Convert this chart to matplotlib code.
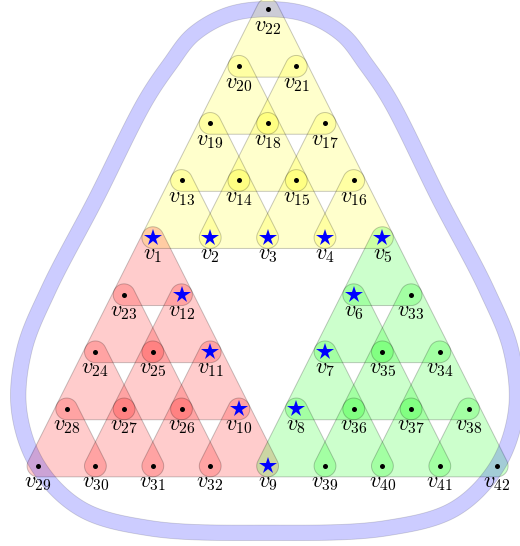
import numpy as np
import matplotlib
matplotlib.use("Agg")
import matplotlib.pyplot as plt
from matplotlib.path import Path
from matplotlib.patches import PathPatch, Polygon

plt.rcParams['mathtext.fontset'] = 'cm'

# vertex labels of the three big triangles, row by row from the apex
yellow_rows = [[22], [20, 21], [19, 18, 17], [13, 14, 15, 16], [1, 2, 3, 4, 5]]
red_rows = [[1], [23, 12], [24, 25, 11], [28, 27, 26, 10], [29, 30, 31, 32, 9]]
green_rows = [[5], [6, 33], [7, 35, 34], [8, 36, 37, 38], [9, 39, 40, 41, 42]]
# apex of each big triangle in lattice units
apex_yellow = (4, 8)
apex_red = (2, 4)
apex_green = (6, 4)
# vertices drawn as stars
starred = [1, 2, 3, 4, 5, 6, 7, 8, 9, 10, 11, 12]

# the big blue hyperedge {v22, v29, v42}, smooth closed curve (lattice units)
blue_x = [4.00, 4.70, 5.31, 5.71, 6.13, 7.00, 7.82, 8.24, 8.33, 8.00, 7.26, 6.06, 4.00,
          1.95, 0.75, 0.00, -0.33, -0.24, 0.18, 1.00, 1.88, 2.30, 2.70, 3.31]
blue_y = [8.00, 7.90, 7.55, 7.04, 6.41, 4.66, 3.08, 2.03, 0.98, 0.00, -0.75, -1.09, -1.17,
          -1.09, -0.75, 0.00, 0.98, 2.03, 3.08, 4.66, 6.41, 7.04, 7.55, 7.90]

R = 0.19     # corner radius of the small hyperedges
BAND = 0.27  # width of the blue band


def hull(pts):
    pts = sorted(set(map(tuple, np.round(pts, 6))))
    def half(seq):
        out = []
        for p in seq:
            while len(out) >= 2 and np.cross(np.subtract(out[-1], out[-2]), np.subtract(p, out[-2])) <= 0:
                out.pop()
            out.append(p)
        return out
    lo = half(pts)
    hi = half(pts[::-1])
    return np.array(lo[:-1] + hi[:-1])


def rounded_triangle(corners, r):
    t = np.linspace(0, 2 * np.pi, 90, endpoint=False)
    pts = np.concatenate([np.c_[x + r * np.cos(t), y + r * np.sin(t)] for x, y in corners])
    return hull(pts)


def catmull_closed(x, y, n=40):
    # centripetal catmull-rom, closed loop
    P = np.c_[x, y]
    m = len(P)
    out = []
    for i in range(m):
        p0, p1, p2, p3 = P[i - 1], P[i], P[(i + 1) % m], P[(i + 2) % m]
        t0 = 0.0
        t1 = t0 + np.linalg.norm(p1 - p0) ** 0.5
        t2 = t1 + np.linalg.norm(p2 - p1) ** 0.5
        t3 = t2 + np.linalg.norm(p3 - p2) ** 0.5
        for t in np.linspace(t1, t2, n, endpoint=False):
            a1 = (t1 - t) / (t1 - t0) * p0 + (t - t0) / (t1 - t0) * p1
            a2 = (t2 - t) / (t2 - t1) * p1 + (t - t1) / (t2 - t1) * p2
            a3 = (t3 - t) / (t3 - t2) * p2 + (t - t2) / (t3 - t2) * p3
            b1 = (t2 - t) / (t2 - t0) * a1 + (t - t0) / (t2 - t0) * a2
            b2 = (t3 - t) / (t3 - t1) * a2 + (t - t1) / (t3 - t1) * a3
            out.append((t2 - t) / (t2 - t1) * b1 + (t - t1) / (t2 - t1) * b2)
    return np.array(out)


pos = {}
edges = []
for rows, (ax0, ay0), col in [(yellow_rows, apex_yellow, 'yellow'),
                              (red_rows, apex_red, 'red'),
                              (green_rows, apex_green, 'lime')]:
    for i, row in enumerate(rows):
        for j, v in enumerate(row):
            pos[v] = (ax0 - i / 2 + j, ay0 - i)
    for i in range(len(rows) - 1):
        for j in range(i + 1):
            edges.append(((rows[i][j], rows[i + 1][j], rows[i + 1][j + 1]), col))

fig = plt.figure(figsize=(5.2, 5.46), dpi=100)
ax = fig.add_axes([0, 0, 1, 1])
ax.set_xlim(-0.662, 8.397)
ax.set_ylim(-1.401, 8.161)
ax.axis('off')

for tri, col in edges:
    poly = rounded_triangle([pos[v] for v in tri], R)
    ax.add_patch(Polygon(poly, closed=True, facecolor=col, alpha=0.2, edgecolor='none', zorder=1))
    ax.add_patch(Polygon(poly, closed=True, facecolor='none', edgecolor=(0, 0, 0, 0.22),
                         lw=0.7, zorder=1.5))

# blue band as a ring around the smooth curve
c = catmull_closed(blue_x, blue_y)
d = np.roll(c, -1, axis=0) - np.roll(c, 1, axis=0)
nrm = np.c_[d[:, 1], -d[:, 0]]
nrm /= np.linalg.norm(nrm, axis=1)[:, None]
outer = c + nrm * BAND / 2
inner = (c - nrm * BAND / 2)[::-1]
verts = np.concatenate([outer, outer[:1], inner, inner[:1]])
codes = ([Path.MOVETO] + [Path.LINETO] * (len(outer) - 1) + [Path.CLOSEPOLY]) * 2
ax.add_patch(PathPatch(Path(verts, codes), facecolor=(0, 0, 1, 0.2), edgecolor=(0, 0, 0, 0.15),
                       lw=0.6, zorder=2))

for v, (x, y) in pos.items():
    if v in starred:
        ax.plot(x, y, marker='*', color='blue', ms=13, mew=0, zorder=4)
    else:
        ax.plot(x, y, marker='o', color='black', ms=3.6, mew=0, zorder=4)
    ax.text(x, y - 0.13, r'$v_{%d}$' % v, ha='center', va='top', fontsize=16, zorder=5)

fig.savefig('out.png', dpi=100)
